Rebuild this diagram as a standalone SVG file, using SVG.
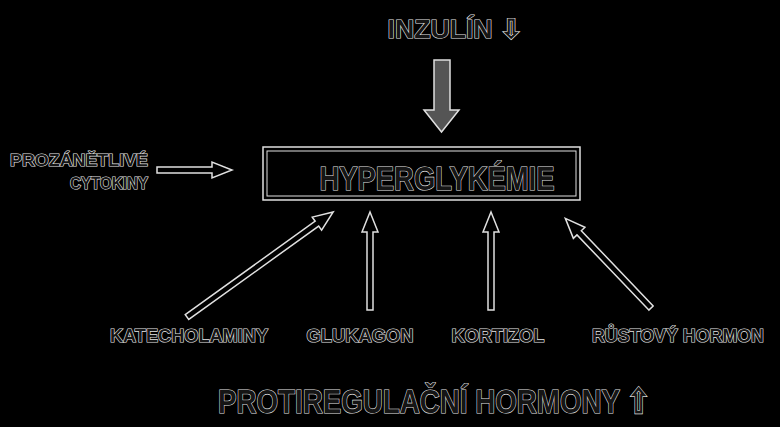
<svg xmlns="http://www.w3.org/2000/svg" width="780" height="427" viewBox="0 0 780 427">
<style>
.t{font-family:"Liberation Sans",Arial,sans-serif;font-weight:bold;fill:#151515;stroke:#e8e8e8;stroke-width:1.2;paint-order:stroke}
.a{fill:#000;stroke:#e0e0e0;stroke-width:1.5;stroke-linejoin:miter}
</style>
<rect width="780" height="427" fill="#000"/>
<g id="insulin">
<text class="t" x="455" y="38" font-size="26" text-anchor="middle" textLength="135" lengthAdjust="spacingAndGlyphs">INZULÍN ⇩</text>
</g>
<g id="hyperglykemie">
<rect x="263" y="147" width="317" height="53" fill="none" stroke="#e0e0e0" stroke-width="1.5"/>
<rect x="267" y="151" width="309" height="45" fill="none" stroke="#e0e0e0" stroke-width="1"/>
<text class="t" x="437" y="190" font-size="34" text-anchor="middle" textLength="235" lengthAdjust="spacingAndGlyphs">HYPERGLYKÉMIE</text>
</g>
<g id="cytokiny">
<text class="t" x="148" y="166" font-size="17" text-anchor="end" textLength="138" lengthAdjust="spacingAndGlyphs">PROZÁNĚTLIVÉ</text>
<text class="t" x="148" y="189" font-size="17" text-anchor="end" textLength="78" lengthAdjust="spacingAndGlyphs">CYTOKINY</text>
</g>
<g id="katecholaminy"><text class="t" x="189" y="342" font-size="18" text-anchor="middle" textLength="158" lengthAdjust="spacingAndGlyphs">KATECHOLAMINY</text></g>
<g id="glukagon"><text class="t" x="360" y="342" font-size="18" text-anchor="middle" textLength="107" lengthAdjust="spacingAndGlyphs">GLUKAGON</text></g>
<g id="kortizol"><text class="t" x="498" y="342" font-size="18" text-anchor="middle" textLength="93" lengthAdjust="spacingAndGlyphs">KORTIZOL</text></g>
<g id="rustovy"><text class="t" x="678" y="342" font-size="18" text-anchor="middle" textLength="172" lengthAdjust="spacingAndGlyphs">RŮSTOVÝ HORMON</text></g>
<g id="protiregulacni"><text class="t" x="434" y="413" font-size="34" text-anchor="middle" textLength="432" lengthAdjust="spacingAndGlyphs">PROTIREGULAČNÍ HORMONY ⇧</text></g>
<g id="connectors">
<polygon points="434,60 450,60 450,110 459,110 441.5,132 424,110 434,110" fill="#555" stroke="#e0e0e0" stroke-width="1.5"/>
<path class="a" transform="translate(157,170)" d="M0,-3 L55,-3 L55,-8 L75,0 L55,8 L55,3 L0,3 Z"/>
<path class="a" transform="translate(187,317) rotate(-35.7)" d="M0,-3 L160,-3 L160,-8 L180,0 L160,8 L160,3 L0,3 Z"/>
<path class="a" transform="translate(370,310) rotate(-90)" d="M0,-3 L78,-3 L78,-8 L98,0 L78,8 L78,3 L0,3 Z"/>
<path class="a" transform="translate(491,310) rotate(-90)" d="M0,-3 L78,-3 L78,-8 L98,0 L78,8 L78,3 L0,3 Z"/>
<path class="a" transform="translate(651,308) rotate(-133.7)" d="M0,-3 L104,-3 L104,-8 L124,0 L104,8 L104,3 L0,3 Z"/>
</g>
</svg>
